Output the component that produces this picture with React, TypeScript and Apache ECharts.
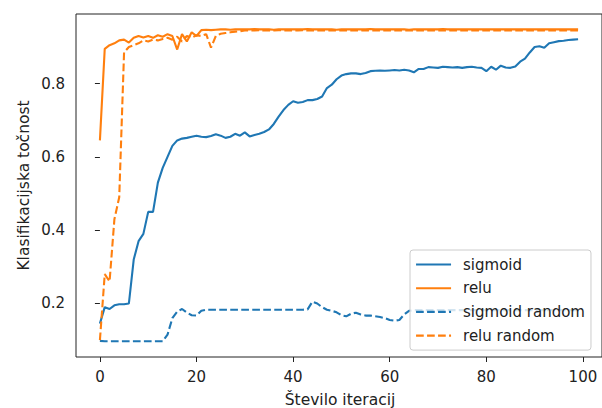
import React, { useEffect, useRef } from "react";
import * as echarts from "echarts";

const seriesNames = ["sigmoid", "relu", "sigmoid random", "relu random"];
const xTicks = [0, 20, 40, 60, 80, 100];
const yTicks = [0.2, 0.4, 0.6, 0.8];
const xLabel = "Število iteracij";
const yLabel = "Klasifikacijska točnost";

const sigmoid = [
  0.145, 0.19, 0.185, 0.195, 0.198, 0.198, 0.2, 0.32, 0.37, 0.39,
  0.45, 0.45, 0.53, 0.57, 0.6, 0.63, 0.645, 0.65, 0.652, 0.655,
  0.658, 0.655, 0.654, 0.657, 0.662, 0.658, 0.652, 0.655, 0.663, 0.658,
  0.667, 0.656, 0.66, 0.663, 0.668, 0.675, 0.69, 0.71, 0.728, 0.742,
  0.752, 0.748, 0.75, 0.755, 0.755, 0.758, 0.765, 0.788, 0.797, 0.812,
  0.822, 0.826, 0.828, 0.828, 0.826, 0.829, 0.834, 0.835, 0.836, 0.835,
  0.836, 0.837, 0.836, 0.838, 0.836, 0.831, 0.84, 0.84, 0.845, 0.844,
  0.843, 0.846, 0.845, 0.844, 0.845, 0.843, 0.845, 0.846, 0.844, 0.843,
  0.834, 0.846, 0.838, 0.849, 0.844, 0.843, 0.847, 0.86, 0.868, 0.885,
  0.9, 0.902, 0.898, 0.91, 0.913, 0.916, 0.917, 0.919, 0.92, 0.921,
];

const relu = [
  0.645, 0.895, 0.905, 0.91, 0.918, 0.92, 0.912, 0.925, 0.93, 0.926,
  0.93, 0.925, 0.932, 0.928, 0.935, 0.93, 0.893, 0.935, 0.915, 0.94,
  0.93, 0.946, 0.947, 0.946, 0.947, 0.948, 0.948, 0.947, 0.948, 0.948,
  0.948, 0.948, 0.949, 0.948, 0.948, 0.948, 0.947, 0.948, 0.948, 0.948,
  0.948, 0.948, 0.948, 0.949, 0.948, 0.948, 0.948, 0.948, 0.948, 0.947,
  0.948, 0.948, 0.948, 0.948, 0.948, 0.948, 0.949, 0.948, 0.948, 0.948,
  0.948, 0.948, 0.948, 0.948, 0.947, 0.948, 0.948, 0.948, 0.948, 0.948,
  0.948, 0.949, 0.948, 0.948, 0.948, 0.948, 0.948, 0.948, 0.948, 0.948,
  0.948, 0.948, 0.948, 0.948, 0.948, 0.948, 0.948, 0.948, 0.948, 0.948,
  0.948, 0.948, 0.948, 0.948, 0.948, 0.948, 0.948, 0.948, 0.948, 0.948,
];

const sigmoidRandom = [
  0.098, 0.097, 0.097, 0.097, 0.097, 0.097, 0.097, 0.097, 0.097, 0.097,
  0.097, 0.097, 0.097, 0.097, 0.115, 0.16, 0.178, 0.185, 0.175, 0.168,
  0.167, 0.18, 0.183, 0.183, 0.183, 0.183, 0.183, 0.183, 0.183, 0.183,
  0.183, 0.183, 0.183, 0.183, 0.183, 0.183, 0.183, 0.183, 0.183, 0.183,
  0.183, 0.183, 0.183, 0.184, 0.205, 0.2, 0.19, 0.183, 0.18, 0.176,
  0.168, 0.165, 0.172, 0.175, 0.17, 0.167, 0.167, 0.165, 0.163, 0.16,
  0.155, 0.153, 0.155, 0.17, 0.18, 0.182, 0.182, 0.182, 0.182, 0.182,
  0.182, 0.182, 0.182, 0.182, 0.182, 0.182, 0.182, 0.182, 0.182, 0.182,
  0.182, 0.182, 0.182, 0.182, 0.182, 0.182, 0.182, 0.182, 0.182, 0.182,
  0.182, 0.182, 0.182, 0.182, 0.182, 0.182, 0.182, 0.182, 0.182, 0.182,
];

const reluRandom = [
  0.1, 0.28, 0.26, 0.43, 0.49, 0.885, 0.9, 0.905, 0.91, 0.918,
  0.915, 0.92, 0.918, 0.922, 0.925, 0.92, 0.928, 0.915, 0.93, 0.925,
  0.932, 0.93, 0.935, 0.898, 0.93, 0.936, 0.938, 0.94, 0.942, 0.943,
  0.945, 0.945, 0.945, 0.946, 0.945, 0.945, 0.945, 0.946, 0.945, 0.945,
  0.945, 0.945, 0.946, 0.945, 0.945, 0.945, 0.945, 0.945, 0.946, 0.945,
  0.945, 0.945, 0.945, 0.945, 0.945, 0.946, 0.945, 0.945, 0.945, 0.945,
  0.945, 0.945, 0.945, 0.945, 0.945, 0.945, 0.945, 0.945, 0.945, 0.945,
  0.945, 0.945, 0.945, 0.945, 0.945, 0.945, 0.945, 0.945, 0.945, 0.945,
  0.945, 0.945, 0.945, 0.945, 0.945, 0.945, 0.945, 0.945, 0.945, 0.945,
  0.945, 0.945, 0.945, 0.945, 0.945, 0.945, 0.945, 0.945, 0.945, 0.945,
];

const BLUE = "#1f77b4";
const ORANGE = "#ff7f0e";
const FONT = "DejaVu Sans";
const DASH = [7.7, 3.3];

const toPairs = (vals: number[]) => vals.map((v, i) => [i, v]);

export default function App() {
  const ref = useRef<HTMLDivElement>(null);
  useEffect(() => {
    document.body.style.margin = "0";
    if (!ref.current) return;
    const chart = echarts.init(ref.current, null, { renderer: "svg" });
    const mk = (name: string, vals: number[], color: string, dashed: boolean) => ({
      name,
      type: "line",
      data: toPairs(vals),
      symbol: "none",
      showSymbol: false,
      clip: true,
      itemStyle: { color },
      lineStyle: { color, width: 2.1, type: dashed ? DASH : "solid", cap: "butt" },
      emphasis: { disabled: true },
    });
    chart.setOption({
      animation: false,
      grid: {
        left: 76,
        top: 14,
        width: 528,
        height: 343,
        show: true,
        borderColor: "#222",
        borderWidth: 1,
        backgroundColor: "transparent",
      },
      xAxis: {
        type: "value",
        min: -4.95,
        max: 103.95,
        axisLine: { show: false },
        splitLine: { show: false },
        axisTick: { show: true, customValues: xTicks, length: 5, lineStyle: { color: "#222", width: 1 } },
        axisLabel: {
          customValues: xTicks,
          margin: 12,
          color: "#222",
          fontSize: 15,
          fontFamily: FONT,
          formatter: (v: number) => String(v),
        },
      },
      yAxis: {
        type: "value",
        min: 0.054,
        max: 0.99,
        axisLine: { show: false },
        splitLine: { show: false },
        axisTick: { show: true, customValues: yTicks, length: 5, lineStyle: { color: "#222", width: 1 } },
        axisLabel: {
          customValues: yTicks,
          margin: 11,
          color: "#222",
          fontSize: 15,
          fontFamily: FONT,
          formatter: (v: number) => v.toFixed(1),
        },
      },
      legend: {
        data: seriesNames,
        orient: "vertical",
        left: 410,
        top: 250,
        itemWidth: 35,
        itemHeight: 14,
        itemGap: 8.7,
        padding: [7, 6, 7, 5],
        borderColor: "#ccc",
        borderWidth: 1,
        borderRadius: 3,
        backgroundColor: "rgba(255,255,255,0.8)",
        itemStyle: { opacity: 0 },
        lineStyle: { width: 2.1 },
        textStyle: { fontSize: 15, fontFamily: FONT, color: "#222", padding: [0, 0, 0, 7] },
      },
      graphic: [
        {
          type: "text",
          x: 340,
          y: 400,
          style: {
            text: xLabel,
            fontSize: 15.5,
            fontFamily: FONT,
            fill: "#222",
            textAlign: "center",
            textVerticalAlign: "middle",
          },
        },
        {
          type: "text",
          x: 24,
          y: 185.5,
          rotation: Math.PI / 2,
          style: {
            text: yLabel,
            fontSize: 15.5,
            fontFamily: FONT,
            fill: "#222",
            textAlign: "center",
            textVerticalAlign: "middle",
          },
        },
      ],
      series: [
        mk(seriesNames[0], sigmoid, BLUE, false),
        mk(seriesNames[1], relu, ORANGE, false),
        mk(seriesNames[2], sigmoidRandom, BLUE, true),
        mk(seriesNames[3], reluRandom, ORANGE, true),
      ],
    });
    return () => chart.dispose();
  }, []);
  return <div ref={ref} style={{ width: 602, height: 408 }} />;
}
